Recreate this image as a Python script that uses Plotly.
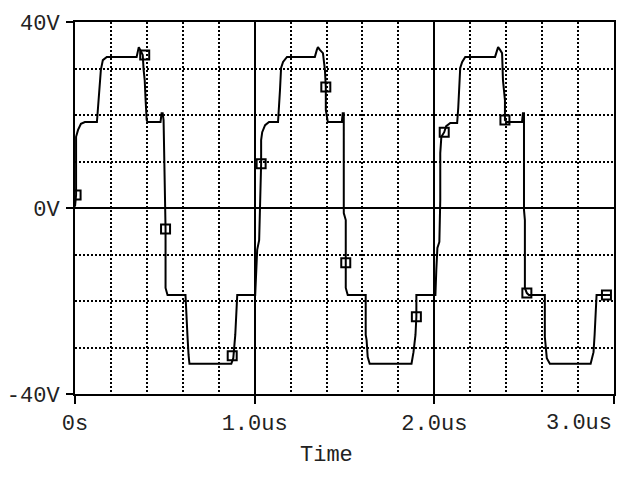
import plotly.graph_objects as go

# Waveform (time in microseconds, voltage in volts)
time_us = [0.000, 0.006, 0.006, 0.017, 0.033, 0.055, 0.122, 0.127, 0.139, 0.144, 0.155, 0.177,
           0.343, 0.349, 0.355, 0.366, 0.377, 0.382, 0.388, 0.393, 0.399, 0.404, 0.476, 0.482,
           0.488, 0.493, 0.499, 0.504, 0.504, 0.510, 0.515, 0.615, 0.620, 0.626, 0.632, 0.637,
           0.870, 0.881, 0.892, 0.898, 0.903, 1.003, 1.008, 1.014, 1.025, 1.030, 1.036, 1.036,
           1.042, 1.058, 1.080, 1.130, 1.136, 1.141, 1.147, 1.158, 1.180, 1.335, 1.346, 1.352,
           1.363, 1.380, 1.391, 1.396, 1.396, 1.402, 1.407, 1.485, 1.490, 1.496, 1.496, 1.507,
           1.507, 1.507, 1.518, 1.618, 1.618, 1.623, 1.629, 1.640, 1.873, 1.884, 1.895, 1.900,
           1.900, 2.006, 2.011, 2.017, 2.028, 2.033, 2.033, 2.039, 2.055, 2.066, 2.089, 2.127,
           2.133, 2.139, 2.144, 2.155, 2.172, 2.338, 2.349, 2.355, 2.366, 2.377, 2.382, 2.393,
           2.393, 2.404, 2.488, 2.493, 2.499, 2.499, 2.504, 2.504, 2.515, 2.526, 2.615, 2.615,
           2.626, 2.643, 2.870, 2.886, 2.892, 2.898, 2.903, 2.981]
volts = [0.3, 2.8, 15.3, 16.8, 18.1, 18.5, 18.5, 21.5, 28.2, 29.7, 31.8, 32.5,
         32.5, 34.0, 34.6, 33.8, 32.9, 29.7, 27.5, 23.2, 18.9, 18.5, 18.5, 20.4,
         20.4, 18.9, 7.1, -4.5, -17.2, -18.1, -18.7, -18.7, -24.1, -27.5, -31.6, -33.5,
         -33.5, -32.3, -27.3, -21.9, -18.7, -18.7, -12.3, -9.0, -6.9, -0.4, 9.5, 14.6,
         16.3, 17.8, 18.5, 18.5, 21.5, 25.4, 30.1, 31.4, 32.5, 32.5, 34.0, 34.6,
         34.0, 33.3, 29.7, 26.0, 21.1, 18.9, 18.5, 18.5, 20.4, 20.4, -1.1, -2.6,
         -11.8, -17.2, -18.7, -18.7, -27.3, -28.4, -32.0, -33.5, -33.5, -31.0, -27.3, -23.4,
         -18.7, -18.7, -13.3, -8.6, -7.3, 1.7, 11.8, 15.3, 16.3, 17.6, 18.3, 18.3,
         21.5, 25.4, 30.1, 31.4, 32.5, 32.5, 34.0, 34.6, 34.0, 33.3, 27.5, 23.2,
         18.9, 18.5, 18.5, 20.4, 20.4, -0.4, -2.6, -17.2, -18.3, -18.7, -18.7, -27.7,
         -32.3, -33.5, -33.5, -31.0, -27.3, -21.9, -18.7, -18.7]

# Data-point markers
marker_t = [0.006, 0.388, 0.504, 0.875, 1.036, 1.396, 1.507, 1.900, 2.055, 2.393, 2.515, 2.958]
marker_v = [2.8, 32.9, -4.5, -31.8, 9.5, 26.0, -11.8, -23.4, 16.3, 18.9, -18.3, -18.7]

# Axis ticks
x_tickvals = [0, 1, 2, 3]
x_ticktext = ["0s", "1.0us", "2.0us", ""]
last_x_label = "3.0us"
y_tickvals = [-40, 0, 40]
y_ticktext = ["-40V", "0V", "40V"]
x_title = "Time"

FONT = "Courier New, Liberation Mono, monospace"
FS = 22

fig = go.Figure()
fig.add_trace(go.Scatter(x=time_us, y=volts, mode="lines",
                         line=dict(color="black", width=2), hoverinfo="skip"))
fig.add_trace(go.Scatter(x=marker_t, y=marker_v, mode="markers",
                         marker=dict(symbol="square-open", size=9, color="black",
                                     line=dict(width=2, color="black"))))

fig.update_layout(
    width=618, height=488,
    margin=dict(l=75, r=2, t=22, b=94),
    paper_bgcolor="white", plot_bgcolor="white",
    showlegend=False,
    font=dict(family=FONT, size=FS, color="#222"),
)
fig.update_xaxes(
    range=[0, 3], tickmode="array", tickvals=x_tickvals, ticktext=x_ticktext,
    ticks="outside", ticklen=8, tickwidth=2, tickcolor="black",
    ticklabelstandoff=0,
    showline=True, linecolor="black", linewidth=2, mirror=True,
    showgrid=True, gridcolor="black", gridwidth=1.5,
    zeroline=False,
    minor=dict(tickmode="linear", tick0=0, dtick=0.2, showgrid=True,
               gridcolor="black", gridwidth=1.5, griddash="2px,2px", ticks=""),
)
fig.update_yaxes(
    range=[-40, 40], tickmode="array", tickvals=y_tickvals, ticktext=y_ticktext,
    ticks="outside", ticklen=7, tickwidth=2, tickcolor="black",
    ticklabelstandoff=2,
    showline=True, linecolor="black", linewidth=2, mirror=True,
    showgrid=True, gridcolor="black", gridwidth=1.5,
    zeroline=False,
    minor=dict(tickmode="linear", tick0=0, dtick=10, showgrid=True,
               gridcolor="black", gridwidth=1.5, griddash="2px,2px", ticks=""),
)
fig.add_annotation(x=3, xref="x", y=-0.078, yref="paper", text=last_x_label,
                   showarrow=False, xanchor="right", yanchor="middle",
                   font=dict(family=FONT, size=FS, color="#222"))
fig.add_annotation(x=0.466, xref="paper", y=-0.164, yref="paper", text=x_title,
                   showarrow=False, xanchor="center", yanchor="middle",
                   font=dict(family=FONT, size=FS, color="#222"))

fig.write_html("out.html")
